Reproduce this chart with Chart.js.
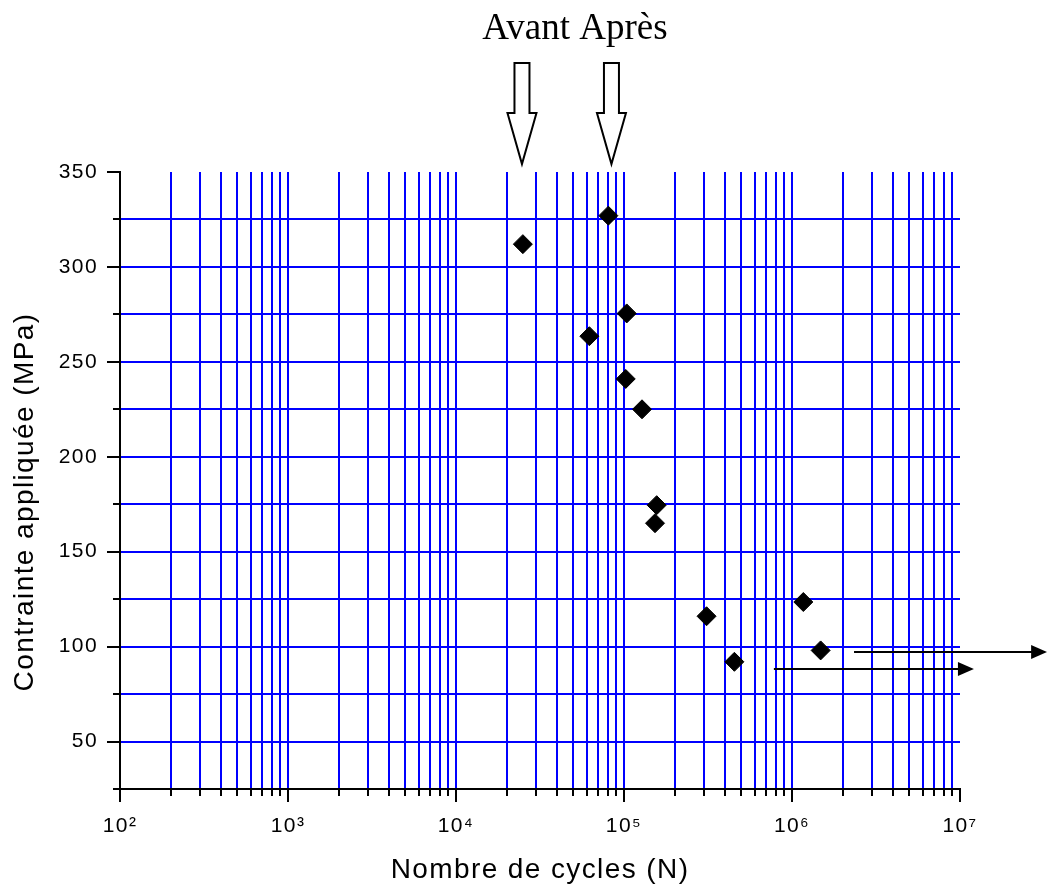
<!DOCTYPE html>
<html>
<head>
<meta charset="utf-8">
<script src="https://cdn.jsdelivr.net/npm/chart.js@4.4.1/dist/chart.umd.min.js"></script>
<style>
  html, body { margin: 0; padding: 0; background: #ffffff; }
  canvas { display: block; }
</style>
</head>
<body>
<canvas id="sn" width="1047" height="889"></canvas>
<script>
// Fatigue tests: cycles to failure and applied stress (MPa)
const cyclesN   = [25000, 80700, 103800, 62200, 102400, 128000, 156500, 153000, 310000, 454000, 1168000, 1481000];
const stressMPa = [312, 327, 275.5, 263.5, 241, 225, 174.5, 165, 116, 92, 123.5, 98];

// Run-out specimens (test stopped without failure)
const runoutStress = [88, 97];
const runoutFrom   = [780000, 2340000];
const runoutTo     = [12100000, 33000000];

// "Avant" / "Après" markers above the plot
const headerText = 'Avant Après';
const markerN    = [24700, 84200];

// Axis ticks
const decadeExps     = [2, 3, 4, 5, 6, 7];
const decadeLabels   = ['10²', '10³', '10⁴', '10⁵', '10⁶', '10⁷'];
const subMultipliers = [1, 2, 3, 4, 5, 6, 7, 8, 9];
const stressMin = 25, stressMax = 350, stressStep = 25, stressLabelStep = 50;

const xTickValues = [];
decadeExps.forEach((e, i) => {
  if (i === decadeExps.length - 1) { xTickValues.push(Math.pow(10, e)); return; }
  subMultipliers.forEach(m => xTickValues.push(m * Math.pow(10, e)));
});

const isDecade = v => Math.abs(Math.log10(v) - Math.round(Math.log10(v))) < 1e-9;
const decadeLabel = v => {
  const idx = decadeExps.indexOf(Math.round(Math.log10(v)));
  return idx >= 0 ? decadeLabels[idx] : '';
};

const SANS = "'Liberation Sans', Arial, sans-serif";
const SERIF = "'Liberation Serif', 'Times New Roman', serif";
const SPACING = '1.4px';
const CLEAR = 'rgba(0,0,0,0)';
const GRID_BLUE = '#0000ff';

Chart.defaults.font.family = SANS;
Chart.defaults.color = '#000000';

const overlay = {
  id: 'overlay',
  beforeUpdate(chart) { chart.ctx.letterSpacing = SPACING; },
  beforeDraw(chart) { chart.ctx.letterSpacing = SPACING; },
  afterDatasetsDraw(chart) {
    const ctx = chart.ctx;
    const xs = chart.scales.x, ys = chart.scales.y;
    const area = chart.chartArea;

    // minor ticks (shorter than the labelled ones)
    ctx.save();
    ctx.strokeStyle = '#000';
    ctx.lineWidth = 2;
    ctx.beginPath();
    xTickValues.forEach(v => {
      if (isDecade(v)) return;
      const px = Math.round(xs.getPixelForValue(v));
      ctx.moveTo(px, area.bottom);
      ctx.lineTo(px, area.bottom + 7);
    });
    for (let v = stressMin; v <= stressMax; v += stressStep) {
      if (v % stressLabelStep === 0) continue;
      const py = Math.round(ys.getPixelForValue(v));
      ctx.moveTo(area.left - 7, py);
      ctx.lineTo(area.left, py);
    }
    ctx.stroke();
    ctx.restore();

    // run-out arrows
    ctx.save();
    ctx.strokeStyle = '#000';
    ctx.fillStyle = '#000';
    ctx.lineWidth = 2;
    runoutStress.forEach((s, i) => {
      const y = Math.round(ys.getPixelForValue(s));
      const x0 = xs.getPixelForValue(runoutFrom[i]);
      const x1 = xs.getPixelForValue(runoutTo[i]);
      ctx.beginPath();
      ctx.moveTo(x0, y);
      ctx.lineTo(x1 - 12, y);
      ctx.stroke();
      ctx.beginPath();
      ctx.moveTo(x1, y);
      ctx.lineTo(x1 - 16, y - 7);
      ctx.lineTo(x1 - 16, y + 7);
      ctx.closePath();
      ctx.fill();
    });
    ctx.restore();
  },
  afterDraw(chart) {
    const ctx = chart.ctx;
    const xs = chart.scales.x;

    // hollow block arrows pointing down at the two markers
    ctx.save();
    ctx.strokeStyle = '#000';
    ctx.fillStyle = '#fff';
    ctx.lineWidth = 2;
    ctx.lineJoin = 'miter';
    markerN.forEach(n => {
      const cx = xs.getPixelForValue(n);
      ctx.beginPath();
      ctx.moveTo(cx - 7.5, 63);
      ctx.lineTo(cx + 7.5, 63);
      ctx.lineTo(cx + 7.5, 113);
      ctx.lineTo(cx + 14.5, 113);
      ctx.lineTo(cx, 164);
      ctx.lineTo(cx - 14.5, 113);
      ctx.lineTo(cx - 7.5, 113);
      ctx.closePath();
      ctx.fill();
      ctx.stroke();
    });

    // header text
    ctx.letterSpacing = '0px';
    ctx.fillStyle = '#000';
    ctx.font = '37px ' + SERIF;
    ctx.textAlign = 'center';
    ctx.textBaseline = 'alphabetic';
    ctx.fillText(headerText, 575, 39);
    ctx.restore();

    // vertical axis title
    ctx.save();
    ctx.letterSpacing = SPACING;
    ctx.fillStyle = '#000';
    ctx.font = '28px ' + SANS;
    ctx.textAlign = 'center';
    ctx.textBaseline = 'middle';
    ctx.translate(25, 502);
    ctx.rotate(-Math.PI / 2);
    ctx.fillText('Contrainte appliquée (MPa)', 0, 0);
    ctx.restore();
  }
};

new Chart(document.getElementById('sn'), {
  type: 'scatter',
  data: {
    datasets: [{
      data: cyclesN.map((n, i) => ({ x: n, y: stressMPa[i] })),
      pointStyle: 'rectRot',
      pointRadius: 9.5,
      pointHoverRadius: 9.5,
      backgroundColor: '#000000',
      borderColor: '#000000',
      borderWidth: 1,
      clip: false
    }]
  },
  options: {
    responsive: false,
    animation: false,
    events: [],
    layout: { padding: { left: 0, top: 172, right: 87, bottom: 0 } },
    plugins: {
      legend: { display: false },
      tooltip: { enabled: false },
      title: { display: false }
    },
    scales: {
      x: {
        type: 'logarithmic',
        position: 'bottom',
        min: 100,
        max: 1e7,
        afterBuildTicks: s => { s.ticks = xTickValues.map(v => ({ value: v, major: isDecade(v) })); },
        afterFit: s => { s.height = 100; },
        ticks: {
          autoSkip: false,
          maxRotation: 0,
          padding: 12,
          font: { size: 21 },
          color: '#000',
          callback: v => isDecade(v) ? decadeLabel(v) : ''
        },
        grid: {
          drawOnChartArea: true,
          drawTicks: true,
          tickLength: 13,
          lineWidth: 2,
          tickWidth: 2,
          color: c => (c.tick && (c.tick.value <= 100 || c.tick.value >= 1e7)) ? CLEAR : GRID_BLUE,
          tickColor: c => (c.tick && isDecade(c.tick.value)) ? '#000' : CLEAR
        },
        border: { display: true, color: '#000', width: 2 },
        title: {
          display: true,
          text: 'Nombre de cycles (N)',
          font: { size: 28 },
          color: '#000',
          padding: { top: 0, bottom: 2 }
        }
      },
      y: {
        type: 'linear',
        position: 'left',
        min: stressMin,
        max: stressMax,
        afterFit: s => { s.width = 120; },
        ticks: {
          stepSize: stressStep,
          autoSkip: false,
          padding: 9,
          font: { size: 21 },
          color: '#000',
          callback: v => (v % stressLabelStep === 0 && v > stressMin) ? String(v) : ''
        },
        grid: {
          drawOnChartArea: true,
          drawTicks: true,
          tickLength: 13,
          lineWidth: 2,
          tickWidth: 2,
          color: c => (c.tick && (c.tick.value <= stressMin || c.tick.value >= stressMax)) ? CLEAR : GRID_BLUE,
          tickColor: c => (c.tick && c.tick.value % stressLabelStep === 0) ? '#000' : CLEAR
        },
        border: { display: true, color: '#000', width: 2 },
        title: { display: false }
      }
    }
  },
  plugins: [overlay]
});
</script>
</body>
</html>
